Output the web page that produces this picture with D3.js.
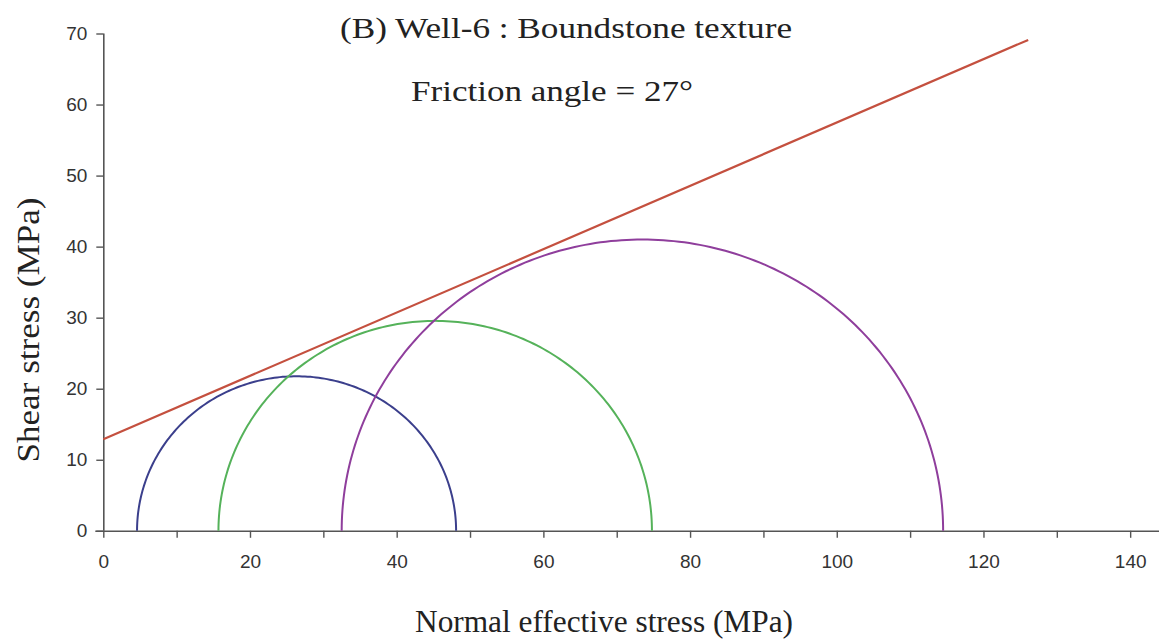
<!DOCTYPE html>
<html>
<head>
<meta charset="utf-8">
<script src="https://cdn.jsdelivr.net/npm/d3@7"></script>
<style>
  html, body { margin: 0; padding: 0; background: #fff; }
  svg { display: block; }
  .tick text { font-family: "Liberation Sans", Arial, sans-serif; font-size: 19px; fill: #333; }
  .serif { font-family: "Liberation Serif", "Times New Roman", serif; fill: #222; }
</style>
</head>
<body>
<svg id="chart" width="1159" height="640"></svg>
<script>
// Mohr circles: minimum and maximum effective principal stress (MPa)
const circleNames = ["Test 1", "Test 2", "Test 3"];
const sigma3 = [4.6, 15.7, 32.5];
const sigma1 = [48.1, 74.8, 114.5];
const circleColors = ["#3b3f8c", "#55b25a", "#8f3e9c"];

// Failure envelope end points (normal stress, shear stress)
const envelopeX = [0, 126.1];
const envelopeY = [12.9, 69.1];

const xTicks = [0, 10, 20, 30, 40, 50, 60, 70, 80, 90, 100, 110, 120, 130, 140];
const yTicks = [0, 10, 20, 30, 40, 50, 60, 70];

const svg = d3.select("#chart");

const x = d3.scaleLinear().domain([0, 144]).range([103.3, 1159.5]);
const y = d3.scaleLinear().domain([0, 70]).range([530.8, 33.5]);

// x axis: minor ticks every 10, labels every 20
const xAxis = d3.axisBottom(x)
  .tickValues(xTicks)
  .tickSize(7)
  .tickPadding(17)
  .tickFormat(d => d % 20 === 0 ? d : "");
const gx = svg.append("g")
  .attr("transform", `translate(0,${y(0)})`)
  .call(xAxis);
gx.select(".domain").attr("d", `M${x(0) - 8},0.5H${x(144)}`);

const yAxis = d3.axisLeft(y)
  .tickValues(yTicks)
  .tickSize(7)
  .tickPadding(9)
  .tickFormat(d => d);
const gy = svg.append("g")
  .attr("transform", `translate(${x(0)},0)`)
  .call(yAxis);
gy.select(".domain").attr("d", `M0.5,${y(70)}V${y(0)}`);

[gx, gy].forEach(g => {
  g.selectAll(".domain").attr("stroke", "#555").attr("stroke-width", 1.6);
  g.selectAll(".tick line").attr("stroke", "#555").attr("stroke-width", 1.4);
});

// Mohr semicircles in data space
const arcLine = d3.line().x(p => x(p[0])).y(p => y(p[1]));
const angles = d3.range(0, 181).map(a => a * Math.PI / 180);
circleNames.forEach((name, i) => {
  const c = (sigma1[i] + sigma3[i]) / 2;
  const r = (sigma1[i] - sigma3[i]) / 2;
  const pts = angles.map(t => [c + r * Math.cos(t), r * Math.sin(t)]);
  svg.append("path")
    .attr("d", arcLine(pts))
    .attr("fill", "none")
    .attr("stroke", circleColors[i])
    .attr("stroke-width", 2);
});

// Coulomb failure envelope
svg.append("path")
  .attr("d", arcLine(envelopeX.map((v, i) => [v, envelopeY[i]])))
  .attr("fill", "none")
  .attr("stroke", "#c4503f")
  .attr("stroke-width", 2.2);

// Titles
function label(text, tx, ty, size, len, rotate) {
  const t = svg.append("text").attr("class", "serif")
    .attr("transform", `translate(${tx},${ty})` + (rotate ? " rotate(-90)" : ""))
    .attr("text-anchor", "middle")
    .attr("font-size", size)
    .attr("textLength", len)
    .attr("lengthAdjust", "spacingAndGlyphs")
    .text(text);
  return t;
}
label("(B) Well-6 : Boundstone texture", 566, 38, 29, 452, false);
label("Friction angle = 27°", 552, 101, 29, 282, false);
label("Normal effective stress (MPa)", 604, 632, 32, 378, false);
label("Shear stress (MPa)", 39, 330, 31, 265, true);
</script>
</body>
</html>
